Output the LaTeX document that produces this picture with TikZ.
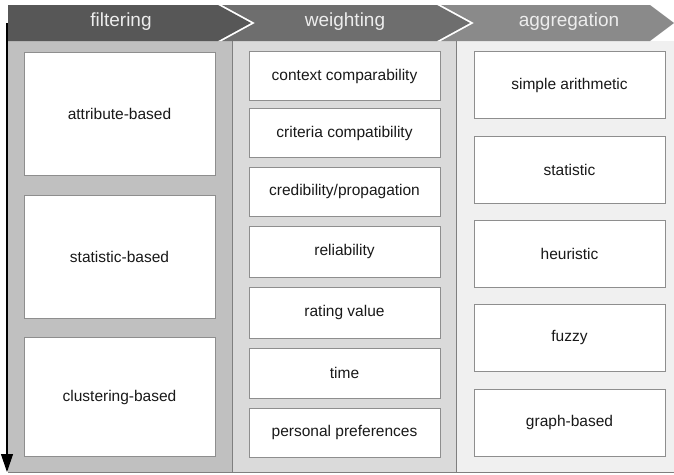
\documentclass[tikz,border=0pt]{standalone}
\usepackage{fontspec}
\setmainfont{Liberation Sans}
\usetikzlibrary{arrows.meta}
\definecolor{hA}{HTML}{575757}
\definecolor{hB}{HTML}{6E6E6E}
\definecolor{hC}{HTML}{8A8A8A}
\definecolor{pA}{HTML}{C0C0C0}
\definecolor{pB}{HTML}{DADADA}
\definecolor{pC}{HTML}{F0F0F0}
\definecolor{ln}{HTML}{7F7F7F}
\definecolor{bx}{HTML}{8E8E8E}
\definecolor{ht}{HTML}{EDEDED}
\tikzset{
  itembox/.style={draw=bx, line width=0.9pt, fill=white, inner sep=0pt, font=\fontsize{15.5}{18}\selectfont, text=black!90},
  fbox/.style={itembox, minimum width=191pt, minimum height=123pt},
  wbox/.style={itembox, minimum width=191pt, minimum height=49pt},
  abox/.style={itembox, minimum width=191pt, minimum height=67pt},
  headtext/.style={text=ht, font=\fontsize{19}{22}\selectfont},
  panel/.style={draw=ln, line width=0.9pt},
}
\begin{document}
\begin{tikzpicture}[x=1pt,y=-1pt]
\useasboundingbox (0,0) rectangle (674,474);
% panels
\fill[pA] (8,41) rectangle (232,472);
\fill[pB] (232,41) rectangle (456,472);
\fill[pC] (456,41) rectangle (674,472);
\draw[panel] (232,41) -- (232,472);
\draw[panel] (456,41) -- (456,472);
\draw[panel] (8,472) -- (674,472);
% headers
\fill[hA] (8,5) -- (218,5) -- (251,23) -- (218,41) -- (8,41) -- cycle;
\fill[hB] (222,5) -- (437,5) -- (470,23) -- (437,41) -- (222,41) -- (255,23) -- cycle;
\fill[hC] (441,5) -- (650,5) -- (674,23) -- (650,41) -- (441,41) -- (474,23) -- cycle;
\node[headtext] (hf) at (121,22) {filtering};
\node[headtext] (hw) at (345,22) {weighting};
\node[headtext] (ha) at (569,22) {aggregation};
% filtering boxes
\node[fbox] (f1) at (119.5,113.5) {attribute-based};
\node[fbox] (f2) at (119.5,256.5) {statistic-based};
\node[fbox] (f3) at (119.5,397) [minimum height=119pt] {clustering-based};
% weighting boxes
\node[wbox] (w1) at (344.5,76) {context comparability};
\node[wbox] (w2) at (344.5,133) {criteria compatibility};
\node[wbox] (w3) at (344.5,191.5) {credibility/propagation};
\node[wbox] (w4) at (344.5,251.5) [minimum height=51pt] {reliability};
\node[wbox] (w5) at (344.5,312.5) [minimum height=51pt] {rating value};
\node[wbox] (w6) at (344.5,373) [minimum height=50pt] {time};
\node[wbox] (w7) at (344.5,432.5) {personal preferences};
% aggregation boxes
\node[abox] (a1) at (569.5,85) {simple arithmetic};
\node[abox] (a2) at (569.5,169.5) {statistic};
\node[abox] (a3) at (569.5,253.5) {heuristic};
\node[abox] (a4) at (569.5,337.5) {fuzzy};
\node[abox] (a5) at (569.5,422.5) {graph-based};
% arrow
\coordinate (as) at (7,23);
\coordinate (ae) at (7,472);
\draw[line width=1.2pt, -{Triangle[width=12pt,length=18pt]}] (as) -- (ae);
\end{tikzpicture}
\end{document}
